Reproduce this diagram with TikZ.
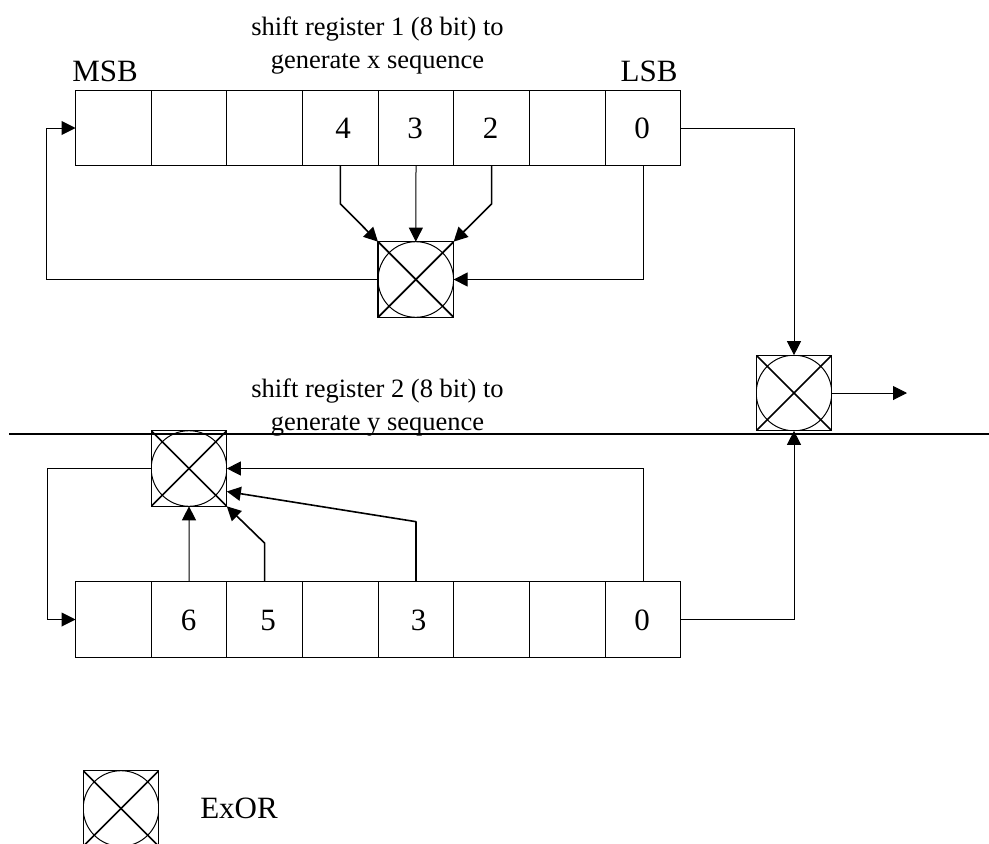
\documentclass[tikz,border=0pt]{standalone}
\usepackage{fontspec}
\setmainfont{Liberation Serif}
\usetikzlibrary{arrows.meta}
\tikzset{
  cellbox/.style={draw=black,line width=1.2pt,minimum width=75.67pt,minimum height=75.67pt,inner sep=0pt,outer sep=0pt},
  xorbox/.style={draw=black,line width=1.2pt,minimum width=75.67pt,minimum height=75.67pt,inner sep=0pt,outer sep=0pt,
    path picture={
      \draw[line width=1pt] (path picture bounding box.center) circle (37.8pt);
      \draw[line width=1.7pt] (path picture bounding box.north west) -- (path picture bounding box.south east);
      \draw[line width=1.7pt] (path picture bounding box.north east) -- (path picture bounding box.south west);
    }},
  conn/.style={line width=1pt,-{Triangle[length=14pt,width=14pt]}},
  connb/.style={line width=1.6pt,-{Triangle[length=14pt,width=14pt]}},
  bigtext/.style={font=\fontsize{31}{34}\selectfont,anchor=base,inner sep=0pt},
  titletext/.style={font=\fontsize{26.5}{32.5}\selectfont,align=center,inner sep=0pt},
}
\begin{document}
\begin{tikzpicture}[x=1pt,y=-1pt]
\useasboundingbox (0,0) rectangle (989,844);
\coordinate (ls) at (9,433.5);
\coordinate (le) at (989,433.5);
\draw[line width=2pt] (ls) -- (le);
\foreach \i in {1,...,8} {
  \node[cellbox] (r\i) at ({75.5+(\i-0.5)*75.67},128) {};
  \node[cellbox] (s\i) at ({75.5+(\i-0.5)*75.67},619.5) {};
}
\node[xorbox] (x1) at (415.8,279.5) {};
\node[xorbox] (xr) at (794,393) {};
\node[xorbox] (x2) at (189,468.5) {};
\node[xorbox] (xl) at (121,808.5) {};
\coordinate (out) at (907,393);
% texts
\node[titletext] (t1) at (377.5,45.5) {shift register 1 (8 bit) to\\generate x sequence};
\node[titletext] (t2) at (377.5,407.5) {shift register 2 (8 bit) to\\generate y sequence};
\node[bigtext] (msb) at (105,81) {MSB};
\node[bigtext] (lsb) at (649,81) {LSB};
\node[bigtext] (d4) at (343,138) {4};
\node[bigtext] (d3) at (415,138) {3};
\node[bigtext] (d2) at (490.7,138) {2};
\node[bigtext] (d0) at (642,138) {0};
\node[bigtext] (e6) at (188.7,630) {6};
\node[bigtext] (e5) at (268,630) {5};
\node[bigtext] (e3) at (418.7,630) {3};
\node[bigtext] (e0) at (642,630) {0};
\node[bigtext] (ex) at (239,818) {ExOR};
% connectors, register 1
\draw[connb,line join=round] (r4.south) -- ++(0,38) -- (x1.north west);
\draw[conn] (r5.south) -- (x1.north);
\draw[connb,line join=round] (r6.south) -- ++(0,38) -- (x1.north east);
\draw[conn] (r8.south) |- (x1.east);
\draw[conn] (x1.west) -- ++(-331,0) |- (r1.west);
\draw[conn] (r8.east) -| (xr.north);
\draw[conn] (xr.east) -- (out);
% connectors, register 2
\draw[conn] (s2.north) -- (x2.south);
\draw[connb,line join=round] (s3.north) -- ++(0,-38.5) -- (x2.south east);
\draw[connb,line join=round] (s5.north) -- ++(0,-60) -- ([yshift=-23pt]x2.east);
\draw[conn] (s8.north) |- (x2.east);
\draw[conn] (x2.west) -- ++(-104,0) |- (s1.west);
\draw[conn] (s8.east) -| (xr.south);
\end{tikzpicture}
\end{document}
